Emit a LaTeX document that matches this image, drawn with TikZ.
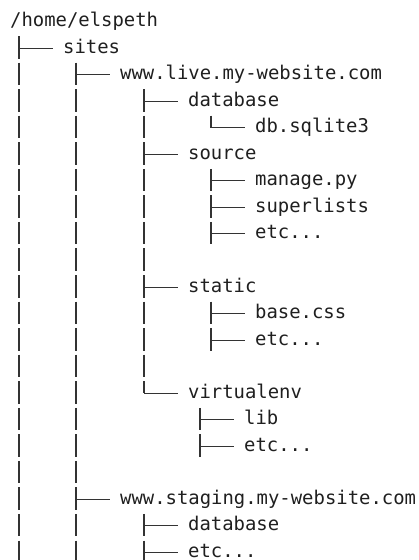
\documentclass[tikz,border=0pt]{standalone}
\usepackage{fontspec}
\setmonofont{DejaVu Sans Mono}
\begin{document}
\begin{tikzpicture}[x=1pt, y=-1pt,
    entry/.style={anchor=west, font=\ttfamily\fontsize{18.9}{20}\selectfont, text=black!88,
        inner xsep=10pt, inner ysep=0pt, text height=10pt, text depth=0pt},
    twig/.style={line width=1pt, draw=black!80},
    rail/.style={line width=1.3pt, draw=black!80, dash pattern=on 22.5pt off 4.05pt}]
    \useasboundingbox (0,0) rectangle (418,560);

    % Rails
    \coordinate (c1) at (19,0);
    \coordinate (c2) at (76,0);
    \coordinate (c3) at (144,0);
    \coordinate (c4) at (211,0);
    \coordinate (c5) at (200,0);
    \coordinate (bottom) at (0,560);

    % Entries
    \node[entry] (root) at (0,21.5) {/home/elspeth};
    \node[entry] (sites) at (53,48.05) {sites};
    \node[entry] (live) at (110,74.6) {www.live.my-website.com};
    \node[entry] (livedb) at (178,101.15) {database};
    \node[entry] (sqlite) at (245,127.7) {db.sqlite3};
    \node[entry] (source) at (178,154.25) {source};
    \node[entry] (manage) at (245,180.8) {manage.py};
    \node[entry] (superlists) at (245,207.35) {superlists};
    \node[entry] (srcetc) at (245,233.9) {etc...};
    \node[entry] (static) at (178,287.0) {static};
    \node[entry] (basecss) at (245,313.55) {base.css};
    \node[entry] (staticetc) at (245,340.1) {etc...};
    \node[entry] (venv) at (178,393.2) {virtualenv};
    \node[entry] (lib) at (234,419.75) {lib};
    \node[entry] (venvetc) at (234,446.3) {etc...};
    \node[entry] (staging) at (110,499.4) {www.staging.my-website.com};
    \node[entry] (stagingdb) at (178,525.95) {database};
    \node[entry] (stagingetc) at (178,552.5) {etc...};

    % Vertical rails
    \draw[rail] (sites.west -| c1) ++(0,-12) -- (bottom -| c1);
    \draw[rail] (live.west -| c2) ++(0,-12) -- (bottom -| c2);
    \draw[rail] (livedb.west -| c3) ++(0,-12) -- (venv.west -| c3);
    \draw[rail] (sqlite.west -| c4) ++(0,-12) -- (sqlite.west -| c4);
    \draw[rail] (manage.west -| c4) ++(0,-12) -- (srcetc.west -| c4) -- ++(0,10.5);
    \draw[rail] (basecss.west -| c4) ++(0,-12) -- (staticetc.west -| c4) -- ++(0,10.5);
    \draw[rail] (lib.west -| c5) ++(0,-12) -- (venvetc.west -| c5) -- ++(0,10.5);
    \draw[rail] (stagingdb.west -| c3) ++(0,-12) -- (bottom -| c3);

    % Branches
    \draw[twig] (sites.west -| c1) -- (sites.west);
    \foreach \n in {live, staging}
        \draw[twig] (\n.west -| c2) -- (\n.west);
    \foreach \n in {livedb, source, static, venv, stagingdb, stagingetc}
        \draw[twig] (\n.west -| c3) -- (\n.west);
    \foreach \n in {sqlite, manage, superlists, srcetc, basecss, staticetc}
        \draw[twig] (\n.west -| c4) -- (\n.west);
    \foreach \n in {lib, venvetc}
        \draw[twig] (\n.west -| c5) -- (\n.west);
\end{tikzpicture}
\end{document}
